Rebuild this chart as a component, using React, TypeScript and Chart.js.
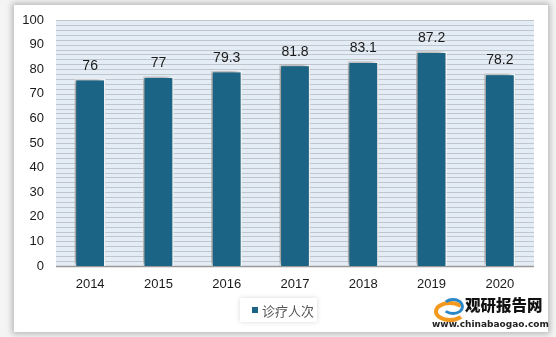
import React, { useEffect, useRef } from "react";
import { Chart, registerables } from "chart.js";

Chart.register(...registerables);

const categories = ["2014", "2015", "2016", "2017", "2018", "2019", "2020"];
const visits = [76, 77, 79.3, 81.8, 83.1, 87.2, 78.2];
const seriesName = "诊疗人次";
const yTicks = [0, 10, 20, 30, 40, 50, 60, 70, 80, 90, 100];
const gridStep = 2;

const BAR = "#1b6485";
const FONT = "'Liberation Sans', Arial, sans-serif";

export default function App() {
  const ref = useRef<HTMLCanvasElement | null>(null);

  useEffect(() => {
    if (!ref.current) return;
    const bgPlugin = {
      id: "bg",
      beforeDatasetsDraw(chart: any) {
        const { ctx, chartArea: a } = chart;
        const y = chart.scales.y;
        ctx.save();
        ctx.fillStyle = "#e4edf5";
        ctx.fillRect(a.left, a.top, a.right - a.left, a.bottom - a.top);
        ctx.strokeStyle = "#bfc6cd";
        ctx.lineWidth = 1;
        for (let v = 0; v <= 100; v += gridStep) {
          const py = Math.round(y.getPixelForValue(v)) + 0.5;
          ctx.beginPath();
          ctx.moveTo(a.left, py);
          ctx.lineTo(a.right, py);
          ctx.stroke();
        }
        ctx.strokeStyle = "#999";
        ctx.lineWidth = 1.5;
        ctx.beginPath();
        ctx.moveTo(a.left, a.bottom + 0.5);
        ctx.lineTo(a.right, a.bottom + 0.5);
        ctx.stroke();
        ctx.restore();
        ctx.save();
        ctx.shadowColor = "rgba(0,0,0,0.45)";
        ctx.shadowBlur = 6;
        ctx.shadowOffsetX = -3;
        ctx.shadowOffsetY = -1;
      },
      afterDatasetsDraw(chart: any) {
        const ctx = chart.ctx;
        ctx.restore();
        ctx.save();
        ctx.font = `14px ${FONT}`;
        ctx.fillStyle = "#1a1a1a";
        ctx.textAlign = "center";
        ctx.textBaseline = "bottom";
        const meta = chart.getDatasetMeta(0);
        meta.data.forEach((el: any, i: number) => {
          ctx.fillText(String(visits[i]), el.x, el.y - 6);
        });
        ctx.restore();
      },
    };

    const chart = new Chart(ref.current, {
      type: "bar",
      data: {
        labels: categories,
        datasets: [
          {
            label: seriesName,
            data: visits,
            backgroundColor: BAR,
            borderColor: "#ffffff",
            borderWidth: 1.5,
            barPercentage: 0.45,
            categoryPercentage: 1,
          },
        ],
      },
      options: {
        responsive: false,
        animation: false,
        layout: { padding: { top: 20, right: 22, bottom: 0, left: 0 } },
        plugins: { legend: { display: false }, tooltip: { enabled: false } },
        scales: {
          x: {
            grid: { display: false, drawTicks: false },
            border: { display: false },
            ticks: { color: "#1a1a1a", font: { size: 13, family: FONT }, padding: 11 },
            afterFit(scale: any) {
              scale.height = 71;
            },
          },
          y: {
            min: 0,
            max: 100,
            ticks: {
              stepSize: 10,
              color: "#1a1a1a",
              font: { size: 13, family: FONT },
              padding: 12,
              callback: (v: any) => (yTicks.includes(Number(v)) ? String(v) : ""),
            },
            grid: { display: false, drawTicks: false },
            border: { display: false },
            afterFit(scale: any) {
              scale.width = 56;
            },
          },
        },
      },
      plugins: [bgPlugin],
    });
    return () => chart.destroy();
  }, []);

  return (
    <div style={{ position: "fixed", left: 0, top: 0, width: 556, height: 337, background: "#f4f4f4", overflow: "hidden" }}>
      <div
        style={{
          position: "absolute",
          left: 14,
          top: 5,
          width: 534,
          height: 327,
          background: "#fff",
          boxShadow: "0 0 6px 2px rgba(0,0,0,0.25)",
        }}
      />
      <canvas ref={ref} width={556} height={337} style={{ position: "absolute", left: 0, top: 0 }} />
      <div
        style={{
          position: "absolute",
          left: 240,
          top: 298,
          width: 77,
          height: 24,
          background: "#fff",
          boxShadow: "0 0 5px rgba(0,0,0,0.15)",
          display: "flex",
          alignItems: "center",
          whiteSpace: "nowrap",
          fontFamily: "'Noto Sans CJK SC', sans-serif",
          fontSize: 13,
          color: "#555",
        }}
      >
        <span style={{ display: "inline-block", flex: "none", width: 6, height: 6, background: BAR, marginLeft: 12, marginRight: 4 }} />
        <span>{seriesName}</span>
      </div>
      <div style={{ position: "absolute", left: 432, top: 298, width: 32, height: 22 }}>
        <div style={{ position: "absolute", left: 2, top: 3, width: 24, height: 13, borderRadius: "50%", border: "4px solid #f39a1e", borderRightColor: "transparent" }} />
        <div style={{ position: "absolute", left: 10, top: 0, width: 16, height: 11, borderRadius: "50%", border: "3px solid #2a87c8", borderLeftColor: "transparent" }} />
      </div>
      <div style={{ position: "absolute", left: 465, top: 293, whiteSpace: "nowrap", fontFamily: "'Noto Sans CJK SC', sans-serif", fontWeight: 900, fontSize: 15.5, color: "#111" }}>
        观研报告网
      </div>
      <div style={{ position: "absolute", left: 432, top: 319, whiteSpace: "nowrap", fontFamily: "'DejaVu Sans', sans-serif", fontWeight: "bold", fontSize: 9, color: "#222" }}>
        www.chinabaogao.com
      </div>
    </div>
  );
}
